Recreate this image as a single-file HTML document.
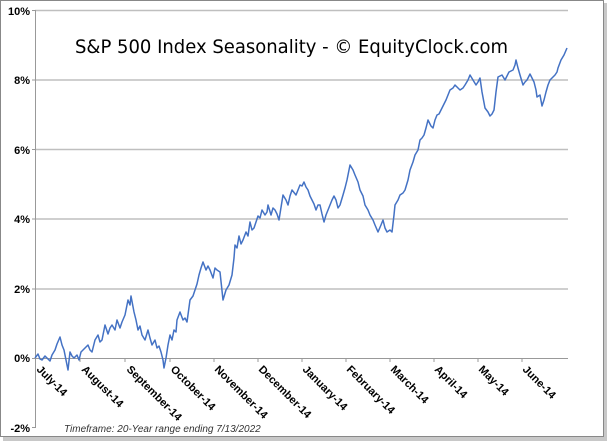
<!DOCTYPE html>
<html><head><meta charset="utf-8"><style>
body{margin:0;background:#fff;}
svg{display:block;font-family:"Liberation Sans",Arial,sans-serif;}
</style></head><body>
<svg width="609" height="443" viewBox="0 0 609 443" xmlns="http://www.w3.org/2000/svg">
<rect x="0" y="0" width="609" height="443" fill="#fff"/>
<rect x="3" y="3" width="604" height="438" fill="#c8c8c8"/>
<rect x="0.5" y="0.5" width="603" height="436" fill="#fff" stroke="#888" stroke-width="1"/>
<g stroke="#bfbfbf" stroke-width="1.5">
<line x1="35" y1="10.5" x2="568" y2="10.5"/>
<line x1="35" y1="80" x2="568" y2="80"/>
<line x1="35" y1="149.5" x2="568" y2="149.5"/>
<line x1="35" y1="219" x2="568" y2="219"/>
<line x1="35" y1="289" x2="568" y2="289"/>
</g>
<line x1="35" y1="358.5" x2="568" y2="358.5" stroke="#999" stroke-width="1"/>
<line x1="35.5" y1="10" x2="35.5" y2="428" stroke="#999" stroke-width="1"/>
<g stroke="#999"><line x1="32" y1="10.5" x2="35" y2="10.5"/><line x1="32" y1="80" x2="35" y2="80"/><line x1="32" y1="149.5" x2="35" y2="149.5"/><line x1="32" y1="219" x2="35" y2="219"/><line x1="32" y1="289" x2="35" y2="289"/><line x1="32" y1="358.5" x2="35" y2="358.5"/><line x1="32" y1="427.5" x2="35" y2="427.5"/>
<line x1="80" y1="358" x2="80" y2="362"/><line x1="125" y1="358" x2="125" y2="362"/><line x1="170" y1="358" x2="170" y2="362"/><line x1="214" y1="358" x2="214" y2="362"/><line x1="258" y1="358" x2="258" y2="362"/><line x1="302" y1="358" x2="302" y2="362"/><line x1="346" y1="358" x2="346" y2="362"/><line x1="390" y1="358" x2="390" y2="362"/><line x1="434" y1="358" x2="434" y2="362"/><line x1="478" y1="358" x2="478" y2="362"/><line x1="522" y1="358" x2="522" y2="362"/></g>
<g font-size="11" font-weight="bold" fill="#000" text-anchor="end">
<text x="30" y="15">10%</text><text x="30" y="84">8%</text><text x="30" y="154">6%</text><text x="30" y="223">4%</text><text x="30" y="293">2%</text><text x="30" y="362">0%</text><text x="30" y="432">-2%</text>
</g>
<g font-size="11" font-weight="bold" fill="#000">
<text transform="translate(36,370) rotate(45)">July-14</text>
<text transform="translate(81,370) rotate(45)">August-14</text>
<text transform="translate(126,370) rotate(45)">September-14</text>
<text transform="translate(170,370) rotate(45)">October-14</text>
<text transform="translate(214,370) rotate(45)">November-14</text>
<text transform="translate(258,370) rotate(45)">December-14</text>
<text transform="translate(302,370) rotate(45)">January-14</text>
<text transform="translate(346,370) rotate(45)">February-14</text>
<text transform="translate(390,370) rotate(45)">March-14</text>
<text transform="translate(434,370) rotate(45)">April-14</text>
<text transform="translate(478,370) rotate(45)">May-14</text>
<text transform="translate(522,370) rotate(45)">June-14</text>
</g>
<text x="75" y="53" font-size="19" font-family="DejaVu Sans, sans-serif" textLength="433" lengthAdjust="spacingAndGlyphs" fill="#000">S&amp;P 500 Index Seasonality - © EquityClock.com</text>
<text x="64" y="432" font-size="10" font-style="italic" fill="#333">Timeframe: 20-Year range ending 7/13/2022</text>
<polyline fill="none" stroke="#4472c4" stroke-width="1.5" stroke-linejoin="round" points="35,358 38,354 40,359 42,360 45,356 47,358 50,361 52,355 55,350 57,344 60,337 62,345 64,350 66,360 68,370 70,352 72,356 74,358 77,355 79,360 81,352 83,350 86,347 88,345 90,350 92,352 95,340 98,335 100,342 102,340 105,325 108,334 110,328 112,325 115,330 117,320 120,328 122,322 125,315 128,300 130,305 131,296 134,312 136,320 138,330 140,326 142,335 145,340 148,330 150,338 152,345 155,340 157,348 159,346 161,352 163,360 164,368 166,358 168,345 170,335 172,340 174,330 176,332 177,320 180,312 183,320 185,318 187,322 190,300 193,296 195,290 197,284 199,275 201,268 203,262 206,270 208,266 210,270 213,278 215,268 217,270 220,272 223,300 226,290 229,285 232,275 234,258 235,245 237,248 239,236 241,244 243,240 246,232 248,236 250,222 252,230 254,228 256,222 258,216 260,218 262,210 265,215 267,212 268,205 271,215 273,208 275,210 277,214 279,220 283,195 286,200 288,205 290,196 292,190 296,195 298,190 300,185 302,186 304,182 306,187 308,190 310,196 312,200 314,204 316,210 318,205 320,205 322,214 324,222 326,215 328,210 330,205 332,200 334,196 336,200 338,208 340,205 343,195 345,188 347,180 350,165 353,170 355,175 358,182 360,190 363,196 365,205 368,210 370,215 373,220 375,225 378,232 381,225 383,220 385,228 387,232 390,230 392,232 394,215 395,205 398,200 400,195 403,193 405,190 408,180 410,170 413,162 415,155 418,150 420,140 422,138 424,135 426,128 428,120 431,126 433,128 435,120 437,115 439,114 441,110 444,104 446,100 448,95 450,90 453,88 455,85 458,88 460,90 463,88 465,85 468,80 470,75 473,80 476,85 478,82 480,78 482,92 485,108 488,112 490,116 492,114 494,110 496,92 498,77 500,76 502,75 505,80 507,76 509,72 511,71 513,70 515,65 516,60 518,68 520,75 523,85 525,82 527,80 530,74 532,78 534,82 536,90 537,97 540,95 542,106 544,100 546,92 548,85 550,80 552,78 555,75 557,72 558,68 561,60 564,55 567,48"/>
</svg>
</body></html>
